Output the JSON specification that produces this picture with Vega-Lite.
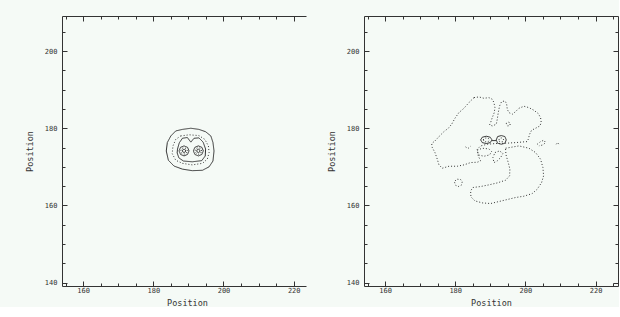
{
  "$schema": "https://vega.github.io/schema/vega-lite/v6.json",
  "background": "#f5faf6",
  "padding": {"left": 25, "top": 15, "right": 0, "bottom": 0},
  "spacing": 58,
  "bounds": "flush",
  "config": {
    "view": {"stroke": null},
    "axis": {
      "grid": false,
      "domainColor": "#333333",
      "tickColor": "#333333",
      "labelColor": "#333333",
      "titleColor": "#333333",
      "labelFont": "DejaVu Sans Mono",
      "labelFontSize": 7,
      "titleFont": "DejaVu Sans Mono",
      "titleFontSize": 8.5,
      "titleFontWeight": "normal",
      "labelFlush": false,
      "labelOverlap": false
    }
  },
  "datasets": {
    "L": [
      {"c":"o","s":"solid","i":0,"x":186.4,"y":179.3},
      {"c":"o","s":"solid","i":1,"x":188.3,"y":179.7},
      {"c":"o","s":"solid","i":2,"x":190.7,"y":180.0},
      {"c":"o","s":"solid","i":3,"x":193.0,"y":179.7},
      {"c":"o","s":"solid","i":4,"x":194.9,"y":179.1},
      {"c":"o","s":"solid","i":5,"x":196.4,"y":178.0},
      {"c":"o","s":"solid","i":6,"x":197.0,"y":176.3},
      {"c":"o","s":"solid","i":7,"x":197.3,"y":174.1},
      {"c":"o","s":"solid","i":8,"x":197.0,"y":171.5},
      {"c":"o","s":"solid","i":9,"x":195.9,"y":170.0},
      {"c":"o","s":"solid","i":10,"x":194.0,"y":169.1},
      {"c":"o","s":"solid","i":11,"x":191.1,"y":169.0},
      {"c":"o","s":"solid","i":12,"x":188.3,"y":169.4},
      {"c":"o","s":"solid","i":13,"x":185.9,"y":170.2},
      {"c":"o","s":"solid","i":14,"x":184.3,"y":171.7},
      {"c":"o","s":"solid","i":15,"x":183.7,"y":174.1},
      {"c":"o","s":"solid","i":16,"x":184.0,"y":176.3},
      {"c":"o","s":"solid","i":17,"x":185.0,"y":178.0},
      {"c":"o","s":"solid","i":18,"x":186.4,"y":179.3},

      {"c":"d1","s":"dot","i":0,"x":187.8,"y":178.0},
      {"c":"d1","s":"dot","i":1,"x":190.2,"y":178.3},
      {"c":"d1","s":"dot","i":2,"x":193.0,"y":178.1},
      {"c":"d1","s":"dot","i":3,"x":194.7,"y":177.1},
      {"c":"d1","s":"dot","i":4,"x":195.7,"y":175.4},
      {"c":"d1","s":"dot","i":5,"x":195.9,"y":173.7},
      {"c":"d1","s":"dot","i":6,"x":195.4,"y":172.0},
      {"c":"d1","s":"dot","i":7,"x":194.0,"y":170.9},
      {"c":"d1","s":"dot","i":8,"x":191.1,"y":170.5},
      {"c":"d1","s":"dot","i":9,"x":188.3,"y":170.9},
      {"c":"d1","s":"dot","i":10,"x":186.4,"y":171.7},
      {"c":"d1","s":"dot","i":11,"x":185.4,"y":173.4},
      {"c":"d1","s":"dot","i":12,"x":185.6,"y":175.4},
      {"c":"d1","s":"dot","i":13,"x":186.4,"y":177.1},
      {"c":"d1","s":"dot","i":14,"x":187.8,"y":178.0},

      {"c":"m","s":"solid","i":0,"x":186.9,"y":174.6},
      {"c":"m","s":"solid","i":1,"x":187.4,"y":176.2},
      {"c":"m","s":"solid","i":2,"x":188.3,"y":177.4},
      {"c":"m","s":"solid","i":3,"x":189.7,"y":177.6},
      {"c":"m","s":"solid","i":4,"x":190.7,"y":176.4},
      {"c":"m","s":"solid","i":5,"x":191.6,"y":177.4},
      {"c":"m","s":"solid","i":6,"x":193.0,"y":177.5},
      {"c":"m","s":"solid","i":7,"x":194.2,"y":176.4},
      {"c":"m","s":"solid","i":8,"x":194.9,"y":174.6},
      {"c":"m","s":"solid","i":9,"x":194.8,"y":172.8},
      {"c":"m","s":"solid","i":10,"x":193.8,"y":171.6},
      {"c":"m","s":"solid","i":11,"x":191.1,"y":171.3},
      {"c":"m","s":"solid","i":12,"x":188.6,"y":171.5},
      {"c":"m","s":"solid","i":13,"x":187.3,"y":172.3},
      {"c":"m","s":"solid","i":14,"x":186.8,"y":173.6},
      {"c":"m","s":"solid","i":15,"x":186.9,"y":174.6},

      {"c":"lb1","s":"solid","i":0,"x":190.18,"y":174.13},
      {"c":"lb1","s":"solid","i":1,"x":189.76,"y":175.05},
      {"c":"lb1","s":"solid","i":2,"x":188.76,"y":175.43},
      {"c":"lb1","s":"solid","i":3,"x":187.76,"y":175.05},
      {"c":"lb1","s":"solid","i":4,"x":187.34,"y":174.13},
      {"c":"lb1","s":"solid","i":5,"x":187.76,"y":173.21},
      {"c":"lb1","s":"solid","i":6,"x":188.76,"y":172.83},
      {"c":"lb1","s":"solid","i":7,"x":189.76,"y":173.21},
      {"c":"lb1","s":"solid","i":8,"x":190.18,"y":174.13},
      {"c":"lb2","s":"dot","i":0,"x":189.71,"y":174.13},
      {"c":"lb2","s":"dot","i":1,"x":189.43,"y":174.74},
      {"c":"lb2","s":"dot","i":2,"x":188.76,"y":174.99},
      {"c":"lb2","s":"dot","i":3,"x":188.09,"y":174.74},
      {"c":"lb2","s":"dot","i":4,"x":187.81,"y":174.13},
      {"c":"lb2","s":"dot","i":5,"x":188.09,"y":173.52},
      {"c":"lb2","s":"dot","i":6,"x":188.76,"y":173.27},
      {"c":"lb2","s":"dot","i":7,"x":189.43,"y":173.52},
      {"c":"lb2","s":"dot","i":8,"x":189.71,"y":174.13},
      {"c":"lb3","s":"solid","i":0,"x":189.23,"y":174.13},
      {"c":"lb3","s":"solid","i":1,"x":189.09,"y":174.43},
      {"c":"lb3","s":"solid","i":2,"x":188.76,"y":174.56},
      {"c":"lb3","s":"solid","i":3,"x":188.43,"y":174.43},
      {"c":"lb3","s":"solid","i":4,"x":188.29,"y":174.13},
      {"c":"lb3","s":"solid","i":5,"x":188.43,"y":173.83},
      {"c":"lb3","s":"solid","i":6,"x":188.76,"y":173.70},
      {"c":"lb3","s":"solid","i":7,"x":189.09,"y":173.83},
      {"c":"lb3","s":"solid","i":8,"x":189.23,"y":174.13},

      {"c":"rb1","s":"solid","i":0,"x":194.26,"y":174.13},
      {"c":"rb1","s":"solid","i":1,"x":193.84,"y":175.05},
      {"c":"rb1","s":"solid","i":2,"x":192.84,"y":175.43},
      {"c":"rb1","s":"solid","i":3,"x":191.84,"y":175.05},
      {"c":"rb1","s":"solid","i":4,"x":191.42,"y":174.13},
      {"c":"rb1","s":"solid","i":5,"x":191.84,"y":173.21},
      {"c":"rb1","s":"solid","i":6,"x":192.84,"y":172.83},
      {"c":"rb1","s":"solid","i":7,"x":193.84,"y":173.21},
      {"c":"rb1","s":"solid","i":8,"x":194.26,"y":174.13},
      {"c":"rb2","s":"dot","i":0,"x":193.79,"y":174.13},
      {"c":"rb2","s":"dot","i":1,"x":193.51,"y":174.74},
      {"c":"rb2","s":"dot","i":2,"x":192.84,"y":174.99},
      {"c":"rb2","s":"dot","i":3,"x":192.17,"y":174.74},
      {"c":"rb2","s":"dot","i":4,"x":191.89,"y":174.13},
      {"c":"rb2","s":"dot","i":5,"x":192.17,"y":173.52},
      {"c":"rb2","s":"dot","i":6,"x":192.84,"y":173.27},
      {"c":"rb2","s":"dot","i":7,"x":193.51,"y":173.52},
      {"c":"rb2","s":"dot","i":8,"x":193.79,"y":174.13},
      {"c":"rb3","s":"solid","i":0,"x":193.31,"y":174.13},
      {"c":"rb3","s":"solid","i":1,"x":193.17,"y":174.43},
      {"c":"rb3","s":"solid","i":2,"x":192.84,"y":174.56},
      {"c":"rb3","s":"solid","i":3,"x":192.51,"y":174.43},
      {"c":"rb3","s":"solid","i":4,"x":192.37,"y":174.13},
      {"c":"rb3","s":"solid","i":5,"x":192.51,"y":173.83},
      {"c":"rb3","s":"solid","i":6,"x":192.84,"y":173.70},
      {"c":"rb3","s":"solid","i":7,"x":193.17,"y":173.83},
      {"c":"rb3","s":"solid","i":8,"x":193.31,"y":174.13}
    ],
    "R": [
      {"c":"up","s":"dot","i":0,"x":185.34,"y":187.94},
      {"c":"up","s":"dot","i":1,"x":186.76,"y":188.12},
      {"c":"up","s":"dot","i":2,"x":188.19,"y":187.77},
      {"c":"up","s":"dot","i":3,"x":189.61,"y":187.94},
      {"c":"up","s":"dot","i":4,"x":190.56,"y":187.51},
      {"c":"up","s":"dot","i":5,"x":191.04,"y":186.65},
      {"c":"up","s":"dot","i":6,"x":191.32,"y":185.35},
      {"c":"up","s":"dot","i":7,"x":191.13,"y":184.06},
      {"c":"up","s":"dot","i":8,"x":190.56,"y":182.76},
      {"c":"up","s":"dot","i":9,"x":190.09,"y":181.47},
      {"c":"up","s":"dot","i":10,"x":189.80,"y":180.86},
      {"c":"up","s":"dot","i":11,"x":190.56,"y":180.60},
      {"c":"up","s":"dot","i":12,"x":191.70,"y":181.03},
      {"c":"up","s":"dot","i":13,"x":191.99,"y":182.33},
      {"c":"up","s":"dot","i":14,"x":192.27,"y":184.06},
      {"c":"up","s":"dot","i":15,"x":192.65,"y":185.78},
      {"c":"up","s":"dot","i":16,"x":193.22,"y":186.91},
      {"c":"up","s":"dot","i":17,"x":194.17,"y":187.08},
      {"c":"up","s":"dot","i":18,"x":194.64,"y":186.39},
      {"c":"up","s":"dot","i":19,"x":194.84,"y":184.92},
      {"c":"up","s":"dot","i":20,"x":195.31,"y":184.06},
      {"c":"up","s":"dot","i":21,"x":196.26,"y":183.63},
      {"c":"up","s":"dot","i":22,"x":197.21,"y":184.32},
      {"c":"up","s":"dot","i":23,"x":198.16,"y":185.18},
      {"c":"up","s":"dot","i":24,"x":199.58,"y":185.70},
      {"c":"up","s":"dot","i":25,"x":201.01,"y":185.35},
      {"c":"up","s":"dot","i":26,"x":202.43,"y":184.66},
      {"c":"up","s":"dot","i":27,"x":203.67,"y":183.80},
      {"c":"up","s":"dot","i":28,"x":204.33,"y":182.76},
      {"c":"up","s":"dot","i":29,"x":204.52,"y":181.47},
      {"c":"up","s":"dot","i":30,"x":204.14,"y":180.60},
      {"c":"up","s":"dot","i":31,"x":202.91,"y":180.00},
      {"c":"up","s":"dot","i":32,"x":201.77,"y":179.48},
      {"c":"up","s":"dot","i":33,"x":201.20,"y":178.44},
      {"c":"up","s":"dot","i":34,"x":200.82,"y":177.15},
      {"c":"up","s":"dot","i":35,"x":200.53,"y":176.54},
      {"c":"up","s":"dot","i":36,"x":197.21,"y":176.28},
      {"c":"up","s":"dot","i":37,"x":194.36,"y":176.11},
      {"c":"up","s":"dot","i":38,"x":191.51,"y":176.03},
      {"c":"up","s":"dot","i":39,"x":189.14,"y":175.85},
      {"c":"up","s":"dot","i":40,"x":187.24,"y":175.42},
      {"c":"up","s":"dot","i":41,"x":186.29,"y":174.56},
      {"c":"up","s":"dot","i":42,"x":186.57,"y":172.83},
      {"c":"up","s":"dot","i":43,"x":187.24,"y":171.54},
      {"c":"up","s":"dot","i":44,"x":186.29,"y":171.19},
      {"c":"up","s":"dot","i":45,"x":184.39,"y":171.10},
      {"c":"up","s":"dot","i":46,"x":182.49,"y":170.50},
      {"c":"up","s":"dot","i":47,"x":180.59,"y":170.15},
      {"c":"up","s":"dot","i":48,"x":178.22,"y":170.15},
      {"c":"up","s":"dot","i":49,"x":176.32,"y":169.64},
      {"c":"up","s":"dot","i":50,"x":175.37,"y":170.50},
      {"c":"up","s":"dot","i":51,"x":174.89,"y":171.97},
      {"c":"up","s":"dot","i":52,"x":174.23,"y":173.69},
      {"c":"up","s":"dot","i":53,"x":173.47,"y":174.99},
      {"c":"up","s":"dot","i":54,"x":173.28,"y":176.03},
      {"c":"up","s":"dot","i":55,"x":174.23,"y":176.72},
      {"c":"up","s":"dot","i":56,"x":175.56,"y":178.01},
      {"c":"up","s":"dot","i":57,"x":176.79,"y":179.13},
      {"c":"up","s":"dot","i":58,"x":178.03,"y":180.00},
      {"c":"up","s":"dot","i":59,"x":178.98,"y":181.03},
      {"c":"up","s":"dot","i":60,"x":179.93,"y":182.59},
      {"c":"up","s":"dot","i":61,"x":181.06,"y":184.06},
      {"c":"up","s":"dot","i":62,"x":182.49,"y":185.18},
      {"c":"up","s":"dot","i":63,"x":183.91,"y":186.65},
      {"c":"up","s":"dot","i":64,"x":185.34,"y":187.94},

      {"c":"lo","s":"dot","i":0,"x":194.36,"y":174.82},
      {"c":"lo","s":"dot","i":1,"x":198.16,"y":175.42},
      {"c":"lo","s":"dot","i":2,"x":201.01,"y":174.82},
      {"c":"lo","s":"dot","i":3,"x":202.91,"y":173.69},
      {"c":"lo","s":"dot","i":4,"x":204.33,"y":171.97},
      {"c":"lo","s":"dot","i":5,"x":205.00,"y":169.81},
      {"c":"lo","s":"dot","i":6,"x":205.19,"y":167.65},
      {"c":"lo","s":"dot","i":7,"x":204.62,"y":165.92},
      {"c":"lo","s":"dot","i":8,"x":203.38,"y":164.20},
      {"c":"lo","s":"dot","i":9,"x":201.96,"y":163.07},
      {"c":"lo","s":"dot","i":10,"x":199.58,"y":162.38},
      {"c":"lo","s":"dot","i":11,"x":197.21,"y":162.04},
      {"c":"lo","s":"dot","i":12,"x":194.84,"y":161.52},
      {"c":"lo","s":"dot","i":13,"x":192.46,"y":161.00},
      {"c":"lo","s":"dot","i":14,"x":190.09,"y":160.48},
      {"c":"lo","s":"dot","i":15,"x":187.71,"y":160.65},
      {"c":"lo","s":"dot","i":16,"x":185.62,"y":161.17},
      {"c":"lo","s":"dot","i":17,"x":184.48,"y":162.21},
      {"c":"lo","s":"dot","i":18,"x":184.39,"y":163.76},
      {"c":"lo","s":"dot","i":19,"x":185.05,"y":164.63},
      {"c":"lo","s":"dot","i":20,"x":187.24,"y":164.89},
      {"c":"lo","s":"dot","i":21,"x":189.61,"y":165.32},
      {"c":"lo","s":"dot","i":22,"x":191.99,"y":165.83},
      {"c":"lo","s":"dot","i":23,"x":194.36,"y":166.53},
      {"c":"lo","s":"dot","i":24,"x":195.50,"y":167.65},
      {"c":"lo","s":"dot","i":25,"x":195.59,"y":169.38},
      {"c":"lo","s":"dot","i":26,"x":195.12,"y":171.10},
      {"c":"lo","s":"dot","i":27,"x":194.55,"y":172.83},
      {"c":"lo","s":"dot","i":28,"x":194.36,"y":174.13},
      {"c":"lo","s":"dot","i":29,"x":194.36,"y":174.82},

      {"c":"c1","s":"dot","i":0,"x":194.55,"y":181.21},
      {"c":"c1","s":"dot","i":1,"x":195.03,"y":181.64},
      {"c":"c1","s":"dot","i":2,"x":195.69,"y":181.38},
      {"c":"c1","s":"dot","i":3,"x":195.59,"y":180.69},
      {"c":"c1","s":"dot","i":4,"x":194.93,"y":180.60},
      {"c":"c1","s":"dot","i":5,"x":194.55,"y":181.21},

      {"c":"c2","s":"dot","i":0,"x":179.93,"y":166.35},
      {"c":"c2","s":"dot","i":1,"x":180.59,"y":166.79},
      {"c":"c2","s":"dot","i":2,"x":181.54,"y":166.70},
      {"c":"c2","s":"dot","i":3,"x":182.01,"y":166.10},
      {"c":"c2","s":"dot","i":4,"x":181.73,"y":165.23},
      {"c":"c2","s":"dot","i":5,"x":180.87,"y":164.89},
      {"c":"c2","s":"dot","i":6,"x":180.12,"y":165.23},
      {"c":"c2","s":"dot","i":7,"x":179.83,"y":165.83},
      {"c":"c2","s":"dot","i":8,"x":179.93,"y":166.35},

      {"c":"l1","s":"dot","i":0,"x":186.29,"y":174.30},
      {"c":"l1","s":"dot","i":1,"x":187.71,"y":174.82},
      {"c":"l1","s":"dot","i":2,"x":189.61,"y":174.64},
      {"c":"l1","s":"dot","i":3,"x":190.37,"y":173.95},
      {"c":"l1","s":"dot","i":4,"x":189.80,"y":173.09},
      {"c":"l1","s":"dot","i":5,"x":188.19,"y":172.74},
      {"c":"l1","s":"dot","i":6,"x":186.57,"y":173.09},
      {"c":"l1","s":"dot","i":7,"x":186.29,"y":174.30},

      {"c":"l2","s":"dot","i":0,"x":191.32,"y":173.69},
      {"c":"l2","s":"dot","i":1,"x":192.65,"y":174.13},
      {"c":"l2","s":"dot","i":2,"x":193.60,"y":173.43},
      {"c":"l2","s":"dot","i":3,"x":192.94,"y":172.40},
      {"c":"l2","s":"dot","i":4,"x":191.99,"y":171.54},
      {"c":"l2","s":"dot","i":5,"x":191.04,"y":171.10},
      {"c":"l2","s":"dot","i":6,"x":190.75,"y":172.40},
      {"c":"l2","s":"dot","i":7,"x":191.32,"y":173.69},

      {"c":"v","s":"dot","i":0,"x":182.96,"y":175.16},
      {"c":"v","s":"dot","i":1,"x":183.63,"y":174.73},
      {"c":"v","s":"dot","i":2,"x":184.39,"y":175.34},

      {"c":"sq","s":"dot","i":0,"x":203.38,"y":175.85},
      {"c":"sq","s":"dot","i":1,"x":204.33,"y":176.54},
      {"c":"sq","s":"dot","i":2,"x":205.28,"y":176.89},
      {"c":"sq","s":"dot","i":3,"x":205.76,"y":176.28},
      {"c":"sq","s":"dot","i":4,"x":205.00,"y":175.68},
      {"c":"sq","s":"dot","i":5,"x":203.86,"y":175.42},

      {"c":"t","s":"dot","i":0,"x":208.80,"y":175.85},
      {"c":"t","s":"dot","i":1,"x":209.17,"y":176.28},
      {"c":"t","s":"dot","i":2,"x":209.55,"y":175.85},

      {"c":"e1","s":"solid","i":0,"x":187.24,"y":176.98},
      {"c":"e1","s":"solid","i":1,"x":187.71,"y":177.67},
      {"c":"e1","s":"solid","i":2,"x":188.85,"y":177.93},
      {"c":"e1","s":"solid","i":3,"x":189.99,"y":177.67},
      {"c":"e1","s":"solid","i":4,"x":190.47,"y":176.98},
      {"c":"e1","s":"solid","i":5,"x":189.99,"y":176.28},
      {"c":"e1","s":"solid","i":6,"x":188.85,"y":176.03},
      {"c":"e1","s":"solid","i":7,"x":187.71,"y":176.28},
      {"c":"e1","s":"solid","i":8,"x":187.24,"y":176.98},
      {"c":"e1i","s":"dot","i":0,"x":188.00,"y":176.98},
      {"c":"e1i","s":"dot","i":1,"x":188.28,"y":177.41},
      {"c":"e1i","s":"dot","i":2,"x":188.85,"y":177.49},
      {"c":"e1i","s":"dot","i":3,"x":189.42,"y":177.41},
      {"c":"e1i","s":"dot","i":4,"x":189.71,"y":176.98},
      {"c":"e1i","s":"dot","i":5,"x":189.42,"y":176.54},
      {"c":"e1i","s":"dot","i":6,"x":188.85,"y":176.46},
      {"c":"e1i","s":"dot","i":7,"x":188.28,"y":176.54},
      {"c":"e1i","s":"dot","i":8,"x":188.00,"y":176.98},
      {"c":"e2","s":"solid","i":0,"x":191.70,"y":176.98},
      {"c":"e2","s":"solid","i":1,"x":192.08,"y":177.84},
      {"c":"e2","s":"solid","i":2,"x":193.13,"y":178.10},
      {"c":"e2","s":"solid","i":3,"x":194.17,"y":177.84},
      {"c":"e2","s":"solid","i":4,"x":194.55,"y":176.98},
      {"c":"e2","s":"solid","i":5,"x":194.17,"y":176.11},
      {"c":"e2","s":"solid","i":6,"x":193.13,"y":175.85},
      {"c":"e2","s":"solid","i":7,"x":192.08,"y":176.11},
      {"c":"e2","s":"solid","i":8,"x":191.70,"y":176.98},
      {"c":"e2i","s":"dot","i":0,"x":192.46,"y":176.98},
      {"c":"e2i","s":"dot","i":1,"x":192.65,"y":177.41},
      {"c":"e2i","s":"dot","i":2,"x":193.13,"y":177.49},
      {"c":"e2i","s":"dot","i":3,"x":193.60,"y":177.41},
      {"c":"e2i","s":"dot","i":4,"x":193.79,"y":176.98},
      {"c":"e2i","s":"dot","i":5,"x":193.60,"y":176.54},
      {"c":"e2i","s":"dot","i":6,"x":193.13,"y":176.46},
      {"c":"e2i","s":"dot","i":7,"x":192.65,"y":176.54},
      {"c":"e2i","s":"dot","i":8,"x":192.46,"y":176.98},
      {"c":"cn","s":"solid","i":0,"x":190.47,"y":176.80},
      {"c":"cn","s":"solid","i":1,"x":191.70,"y":176.80}
    ]
  },
  "hconcat": [
    {
      "width": 244,
      "height": 270,
      "data": {"name": "L"},
      "layer": [
        {
          "mark": {"type": "line", "strokeWidth": 1, "color": "#333333"},
          "encoding": {
            "x": {"field": "x", "type": "quantitative",
              "scale": {"domain": [154, 223.5], "nice": false, "zero": false},
              "axis": {"orient": "bottom", "title": "Position", "titleX": 125,
                "values": [155,160,165,170,175,180,185,190,195,200,205,210,215,220],
                "tickSize": {"condition": {"test": "datum.value % 20 === 0", "value": -5}, "value": -3},
                "labelExpr": "datum.value % 20 === 0 ? datum.label : ''",
                "labelPadding": 5, "titlePadding": 3}},
            "y": {"field": "y", "type": "quantitative",
              "scale": {"domain": [139.1, 209.1], "nice": false, "zero": false},
              "axis": {"orient": "left", "title": "Position",
                "values": [140,145,150,155,160,165,170,175,180,185,190,195,200,205],
                "tickSize": {"condition": {"test": "datum.value % 20 === 0", "value": -5}, "value": -3},
                "labelExpr": "datum.value % 20 === 0 ? datum.label : ''",
                "labelPadding": 10, "titlePadding": 10}},
            "detail": {"field": "c"},
            "order": {"field": "i", "type": "quantitative"},
            "strokeDash": {"field": "s", "type": "nominal",
              "scale": {"domain": ["solid", "dot"], "range": [[1, 0], [1, 2]]}, "legend": null}
          }
        },
        {
          "mark": {"type": "point", "opacity": 0},
          "encoding": {
            "x": {"field": "x", "type": "quantitative",
              "axis": {"orient": "top", "title": null, "labels": false,
                "values": [155,160,165,170,175,180,185,190,195,200,205,210,215,220],
                "tickSize": {"condition": {"test": "datum.value % 20 === 0", "value": -5}, "value": -3}}},
            "y": {"field": "y", "type": "quantitative", "axis": null}
          }
        }
      ],
      "resolve": {"axis": {"x": "independent", "y": "independent"}}
    },
    {
      "width": 254,
      "height": 270,
      "data": {"name": "R"},
      "layer": [
        {
          "mark": {"type": "line", "strokeWidth": 1, "color": "#333333"},
          "encoding": {
            "x": {"field": "x", "type": "quantitative",
              "scale": {"domain": [154, 226.4], "nice": false, "zero": false},
              "axis": {"orient": "bottom", "title": "Position",
                "values": [155,160,165,170,175,180,185,190,195,200,205,210,215,220,225],
                "tickSize": {"condition": {"test": "datum.value % 20 === 0", "value": -5}, "value": -3},
                "labelExpr": "datum.value % 20 === 0 ? datum.label : ''",
                "labelPadding": 5, "titlePadding": 3}},
            "y": {"field": "y", "type": "quantitative",
              "scale": {"domain": [139.1, 209.1], "nice": false, "zero": false},
              "axis": {"orient": "left", "title": "Position",
                "values": [140,145,150,155,160,165,170,175,180,185,190,195,200,205],
                "tickSize": {"condition": {"test": "datum.value % 20 === 0", "value": -5}, "value": -3},
                "labelExpr": "datum.value % 20 === 0 ? datum.label : ''",
                "labelPadding": 10, "titlePadding": 10}},
            "detail": {"field": "c"},
            "order": {"field": "i", "type": "quantitative"},
            "strokeDash": {"field": "s", "type": "nominal",
              "scale": {"domain": ["solid", "dot"], "range": [[1, 0], [1, 2]]}, "legend": null}
          }
        },
        {
          "mark": {"type": "point", "opacity": 0},
          "encoding": {
            "x": {"field": "x", "type": "quantitative",
              "axis": {"orient": "top", "title": null, "labels": false,
                "values": [155,160,165,170,175,180,185,190,195,200,205,210,215,220,225],
                "tickSize": {"condition": {"test": "datum.value % 20 === 0", "value": -5}, "value": -3}}},
            "y": {"field": "y", "type": "quantitative",
              "axis": {"orient": "right", "title": null, "labels": false,
                "values": [140,145,150,155,160,165,170,175,180,185,190,195,200,205],
                "tickSize": {"condition": {"test": "datum.value % 20 === 0", "value": -5}, "value": -3}}}
          }
        }
      ],
      "resolve": {"axis": {"x": "independent", "y": "independent"}}
    }
  ]
}
